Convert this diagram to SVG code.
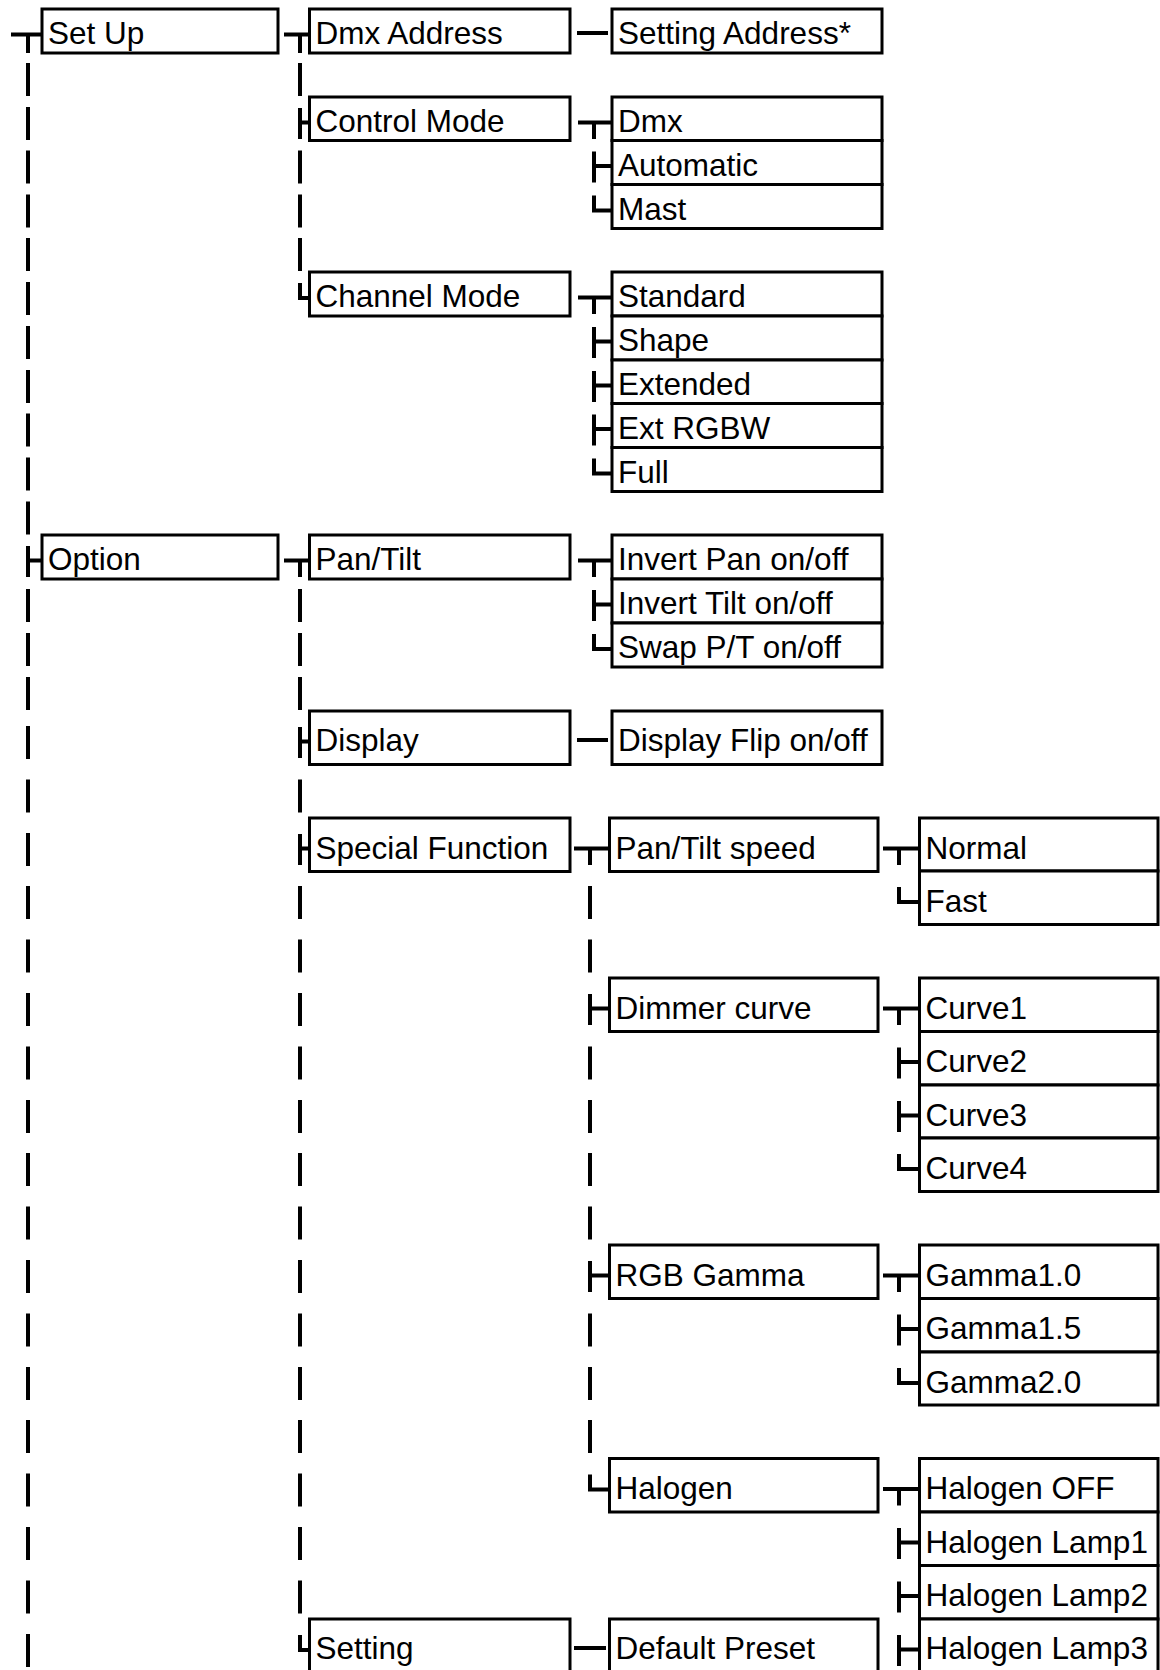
<svg xmlns="http://www.w3.org/2000/svg" width="1160" height="1670" viewBox="0 0 1160 1670">
<style>
.box{fill:#fff;stroke:#000;stroke-width:3}
text{font-family:"Liberation Sans",Arial,sans-serif;font-size:31.5px;fill:#000}
.c path{fill:none;stroke:#000;stroke-width:4;stroke-linecap:butt;stroke-linejoin:miter}
</style>
<rect width="1160" height="1670" fill="#fff"/>
<g id="connectors" class="c">
<path id="v1" d="M11,34.5H42M28,34.5V53M28,63V96M28,107V140M28,150.5V183.5M28,194.5V227.5M28,238V271M28,282V315M28,326V359M28,370V403M28,413.5V446.5M28,457.5V490.5M28,501.5V534.5M28,546V577M28,560.5H42M28,589V622M28,633V666M28,677V710M28,726V759M28,779.5V812.5M28,833V866M28,886V919M28,939.5V972.5M28,993V1026M28,1046.5V1079.5M28,1100V1133M28,1153V1186M28,1206.5V1239.5M28,1260V1293M28,1313.5V1346.5M28,1367V1400M28,1420V1453M28,1473.5V1506.5M28,1527V1560M28,1580.5V1613.5M28,1634V1667"/>
<path id="v2" d="M284,34.5H309.5M300,34.5V53M300,63V96M300,108V139M300,122.5H309.5M300,150.5V183.5M300,194.5V227.5M300,238V271M300,283V298H309.5M284,560.5H309.5M300,560.5V577M300,589V622M300,633V666M300,677V710M300,727V758M300,741.5H309.5M300,779.5V812.5M300,834V865M300,848.5H309.5M300,886V919M300,939.5V972.5M300,993V1026M300,1046.5V1079.5M300,1100V1133M300,1153V1186M300,1206.5V1239.5M300,1260V1293M300,1313.5V1346.5M300,1367V1400M300,1420V1453M300,1473.5V1506.5M300,1527V1560M300,1580.5V1613.5M300,1635V1650H309.5"/>
<path id="v3u" d="M577,33H608M578,122.5H612M594,122.5V139M594,151.5V182.5M594,166H612M594,195.5V210.5H612M578,297.5H612M594,297.5V314M594,327V358M594,341.5H612M594,371V402M594,385.5H612M594,414.5V445.5M594,429H612M594,458.5V473.5H612M578,560.5H612M594,560.5V577M594,590V621M594,604.5H612M594,634V649H612M577,740H608"/>
<path id="v3l" d="M574,848.5H609.5M590,848.5V865M590,886V919M590,939.5V972.5M590,994V1025M590,1008.5H609.5M590,1046.5V1079.5M590,1100V1133M590,1153V1186M590,1206.5V1239.5M590,1261V1292M590,1275.5H609.5M590,1313.5V1346.5M590,1367V1400M590,1420V1453M590,1474.5V1489.5H609.5M574,1648H606"/>
<path id="v4" d="M883,848.5H919.5M899,848.5V865M899,887V902H919.5M883,1008.5H919.5M899,1008.5V1025M899,1047.5V1078.5M899,1062H919.5M899,1101V1132M899,1115.5H919.5M899,1154V1169H919.5M883,1275.5H919.5M899,1275.5V1292M899,1314.5V1345.5M899,1329H919.5M899,1368V1383H919.5M883,1489H919.5M899,1489V1505.5M899,1528V1559M899,1542.5H919.5M899,1581.5V1612.5M899,1596H919.5M899,1635V1666M899,1649.5H919.5"/>
</g>
<g id="n-setup"><rect class="box" x="42" y="9" width="236" height="44"/><text x="48" y="44">Set Up</text></g>
<g id="n-dmxaddress"><rect class="box" x="309.5" y="9" width="260.5" height="44"/><text x="315.5" y="44">Dmx Address</text></g>
<g id="n-settingaddress"><rect class="box" x="612" y="9" width="270" height="44"/><text x="618" y="44">Setting Address*</text></g>
<g id="n-controlmode"><rect class="box" x="309.5" y="97" width="260.5" height="43.5"/><text x="315.5" y="132">Control Mode</text></g>
<g id="n-dmx"><rect class="box" x="612" y="97" width="270" height="43.5"/><text x="618" y="132">Dmx</text></g>
<g id="n-automatic"><rect class="box" x="612" y="140.5" width="270" height="44"/><text x="618" y="175.5">Automatic</text></g>
<g id="n-mast"><rect class="box" x="612" y="184.5" width="270" height="44"/><text x="618" y="219.5">Mast</text></g>
<g id="n-channelmode"><rect class="box" x="309.5" y="272" width="260.5" height="44"/><text x="315.5" y="307">Channel Mode</text></g>
<g id="n-standard"><rect class="box" x="612" y="272" width="270" height="44"/><text x="618" y="307">Standard</text></g>
<g id="n-shape"><rect class="box" x="612" y="316" width="270" height="44"/><text x="618" y="351">Shape</text></g>
<g id="n-extended"><rect class="box" x="612" y="360" width="270" height="43.5"/><text x="618" y="395">Extended</text></g>
<g id="n-extrgbw"><rect class="box" x="612" y="403.5" width="270" height="44"/><text x="618" y="438.5">Ext RGBW</text></g>
<g id="n-full"><rect class="box" x="612" y="447.5" width="270" height="44"/><text x="618" y="482.5">Full</text></g>
<g id="n-option"><rect class="box" x="42" y="535" width="236" height="44"/><text x="48" y="570">Option</text></g>
<g id="n-pantilt"><rect class="box" x="309.5" y="535" width="260.5" height="44"/><text x="315.5" y="570">Pan/Tilt</text></g>
<g id="n-invertpan"><rect class="box" x="612" y="535" width="270" height="44"/><text x="618" y="570">Invert Pan on/off</text></g>
<g id="n-inverttilt"><rect class="box" x="612" y="579" width="270" height="44"/><text x="618" y="614">Invert Tilt on/off</text></g>
<g id="n-swappt"><rect class="box" x="612" y="623" width="270" height="44"/><text x="618" y="658">Swap P/T on/off</text></g>
<g id="n-display"><rect class="box" x="309.5" y="711" width="260.5" height="53.5"/><text x="315.5" y="751">Display</text></g>
<g id="n-displayflip"><rect class="box" x="612" y="711" width="270" height="53.5"/><text x="618" y="751">Display Flip on/off</text></g>
<g id="n-specialfunction"><rect class="box" x="309.5" y="818" width="260.5" height="53.5"/><text x="315.5" y="858.5">Special Function</text></g>
<g id="n-pantiltspeed"><rect class="box" x="609.5" y="818" width="268.5" height="53.5"/><text x="615.5" y="858.5">Pan/Tilt speed</text></g>
<g id="n-normal"><rect class="box" x="919.5" y="818" width="238.5" height="53"/><text x="925.5" y="858.5">Normal</text></g>
<g id="n-fast"><rect class="box" x="919.5" y="871" width="238.5" height="53.5"/><text x="925.5" y="911.5">Fast</text></g>
<g id="n-dimmercurve"><rect class="box" x="609.5" y="978" width="268.5" height="53.5"/><text x="615.5" y="1018.5">Dimmer curve</text></g>
<g id="n-curve1"><rect class="box" x="919.5" y="978" width="238.5" height="53.5"/><text x="925.5" y="1018.5">Curve1</text></g>
<g id="n-curve2"><rect class="box" x="919.5" y="1031.5" width="238.5" height="53.5"/><text x="925.5" y="1072">Curve2</text></g>
<g id="n-curve3"><rect class="box" x="919.5" y="1085" width="238.5" height="53"/><text x="925.5" y="1125.5">Curve3</text></g>
<g id="n-curve4"><rect class="box" x="919.5" y="1138" width="238.5" height="53.5"/><text x="925.5" y="1178.5">Curve4</text></g>
<g id="n-rgbgamma"><rect class="box" x="609.5" y="1245" width="268.5" height="53.5"/><text x="615.5" y="1285.5">RGB Gamma</text></g>
<g id="n-gamma10"><rect class="box" x="919.5" y="1245" width="238.5" height="53.5"/><text x="925.5" y="1285.5">Gamma1.0</text></g>
<g id="n-gamma15"><rect class="box" x="919.5" y="1298.5" width="238.5" height="53.5"/><text x="925.5" y="1339">Gamma1.5</text></g>
<g id="n-gamma20"><rect class="box" x="919.5" y="1352" width="238.5" height="53"/><text x="925.5" y="1392.5">Gamma2.0</text></g>
<g id="n-halogen"><rect class="box" x="609.5" y="1458.5" width="268.5" height="53.5"/><text x="615.5" y="1499">Halogen</text></g>
<g id="n-halogenoff"><rect class="box" x="919.5" y="1458.5" width="238.5" height="53.5"/><text x="925.5" y="1499">Halogen OFF</text></g>
<g id="n-halogenlamp1"><rect class="box" x="919.5" y="1512" width="238.5" height="53.5"/><text x="925.5" y="1552.5">Halogen Lamp1</text></g>
<g id="n-halogenlamp2"><rect class="box" x="919.5" y="1565.5" width="238.5" height="53.5"/><text x="925.5" y="1606">Halogen Lamp2</text></g>
<g id="n-setting"><rect class="box" x="309.5" y="1619" width="260.5" height="53.5"/><text x="315.5" y="1659">Setting</text></g>
<g id="n-defaultpreset"><rect class="box" x="609.5" y="1619" width="268.5" height="53.5"/><text x="615.5" y="1659">Default Preset</text></g>
<g id="n-halogenlamp3"><rect class="box" x="919.5" y="1619" width="238.5" height="53.5"/><text x="925.5" y="1659">Halogen Lamp3</text></g>
</svg>
